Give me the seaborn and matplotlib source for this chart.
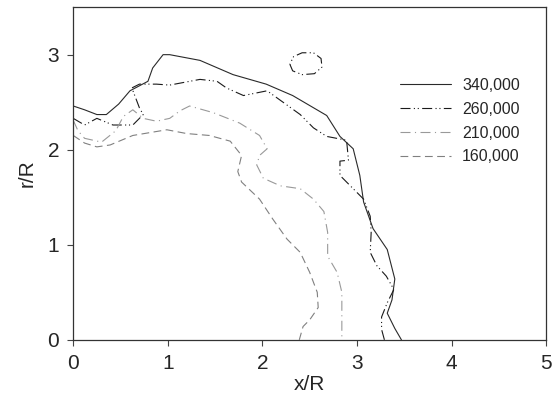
import numpy as np
import pandas as pd
import seaborn as sns
from matplotlib import pyplot as plt

# contour boundaries
x_340 = [0.00, 0.12, 0.25, 0.35, 0.48, 0.60, 0.79, 0.84, 0.95, 1.02, 1.34, 1.69, 2.04, 2.32, 2.68,
         2.82, 2.96, 3.03, 3.07, 3.17, 3.32, 3.40, 3.37, 3.32, 3.40, 3.47]
y_340 = [2.46, 2.42, 2.37, 2.37, 2.48, 2.62, 2.72, 2.86, 3.00, 3.00, 2.94, 2.79, 2.69, 2.57, 2.36,
         2.14, 2.01, 1.73, 1.45, 1.17, 0.95, 0.64, 0.42, 0.28, 0.12, 0.00]

x_260 = [0.00, 0.12, 0.25, 0.42, 0.63, 0.74, 0.70, 0.62, 0.70, 0.88, 1.02, 1.34, 1.52, 1.62, 1.80,
         2.05, 2.19, 2.40, 2.54, 2.68, 2.89, 2.91, 2.82, 2.82, 2.96, 3.07, 3.14, 3.15, 3.14, 3.21,
         3.31, 3.39, 3.32, 3.26, 3.26, 3.29]
y_260 = [2.33, 2.26, 2.33, 2.26, 2.26, 2.37, 2.44, 2.65, 2.69, 2.69, 2.68, 2.74, 2.72, 2.65, 2.57,
         2.62, 2.52, 2.37, 2.23, 2.14, 2.10, 1.89, 1.88, 1.73, 1.59, 1.48, 1.30, 1.13, 0.92, 0.78,
         0.67, 0.53, 0.39, 0.24, 0.11, 0.00]
x_260_loop = [2.29, 2.32, 2.42, 2.55, 2.63, 2.62, 2.54, 2.42, 2.33, 2.29]
y_260_loop = [2.90, 2.83, 2.79, 2.80, 2.87, 2.96, 3.02, 3.02, 2.98, 2.90]

x_210 = [0.00, 0.05, 0.12, 0.30, 0.45, 0.53, 0.63, 0.74, 0.88, 1.02, 1.13, 1.23, 1.48, 1.76, 1.97,
         2.05, 1.97, 1.94, 2.01, 2.19, 2.40, 2.54, 2.65, 2.69, 2.69, 2.79, 2.84, 2.84, 2.84]
y_210 = [2.31, 2.20, 2.12, 2.08, 2.20, 2.35, 2.42, 2.33, 2.30, 2.33, 2.41, 2.46, 2.39, 2.28, 2.15,
         2.01, 1.94, 1.84, 1.70, 1.62, 1.59, 1.48, 1.35, 1.13, 0.88, 0.71, 0.50, 0.25, 0.00]

x_160 = [0.00, 0.12, 0.25, 0.39, 0.63, 0.99, 1.20, 1.44, 1.66, 1.78, 1.74, 1.78, 1.97, 2.11, 2.26,
         2.40, 2.50, 2.58, 2.59, 2.50, 2.43, 2.39]
y_160 = [2.15, 2.07, 2.03, 2.05, 2.15, 2.21, 2.17, 2.15, 2.09, 1.94, 1.77, 1.66, 1.48, 1.27, 1.06,
         0.92, 0.71, 0.50, 0.34, 0.21, 0.14, 0.00]

labels = ['340,000', '260,000', '210,000', '160,000']

sns.set_theme(style='ticks')
plt.rcParams['font.family'] = ['Liberation Sans', 'DejaVu Sans']

fig, ax = plt.subplots(figsize=(5.59, 3.97), dpi=100)
fig.subplots_adjust(left=0.131, right=0.977, top=0.982, bottom=0.144)

ls_260 = (0, (9, 3, 1, 2.5, 1, 3))
series = [
    (x_340, y_340, labels[0], '#2a2a2a', '-'),
    (x_260, y_260, labels[1], '#1a1a1a', ls_260),
    (x_210, y_210, labels[2], '#999999', (0, (9, 4, 1, 4))),
    (x_160, y_160, labels[3], '#808080', (0, (7, 4))),
]
for xs, ys, lab, col, ls in series:
    sns.lineplot(x=xs, y=ys, sort=False, estimator=None, color=col, linestyle=ls,
                 linewidth=0.8, label=lab, ax=ax)

sns.lineplot(x=x_260_loop, y=y_260_loop, sort=False, estimator=None, color='#1a1a1a',
             linestyle=ls_260, linewidth=0.8, ax=ax)

ax.set_xlim(0, 5)
ax.set_ylim(0, 3.5)
ax.set_xticks([0, 1, 2, 3, 4, 5])
ax.set_yticks([0, 1, 2, 3])
ax.tick_params(labelsize=15, length=4, width=0.8, color='#444444', pad=6)
for s in ax.spines.values():
    s.set_linewidth(0.9)
    s.set_color('#333333')
ax.set_xlabel('x/R', fontsize=15, labelpad=2)
ax.set_ylabel('r/R', fontsize=15, labelpad=8)

ax.legend(loc='upper left', bbox_to_anchor=(0.66, 0.83), frameon=False, fontsize=11.5,
          handlelength=3.2, handletextpad=0.7, labelspacing=0.55)

plt.savefig('out.png', dpi=100)
